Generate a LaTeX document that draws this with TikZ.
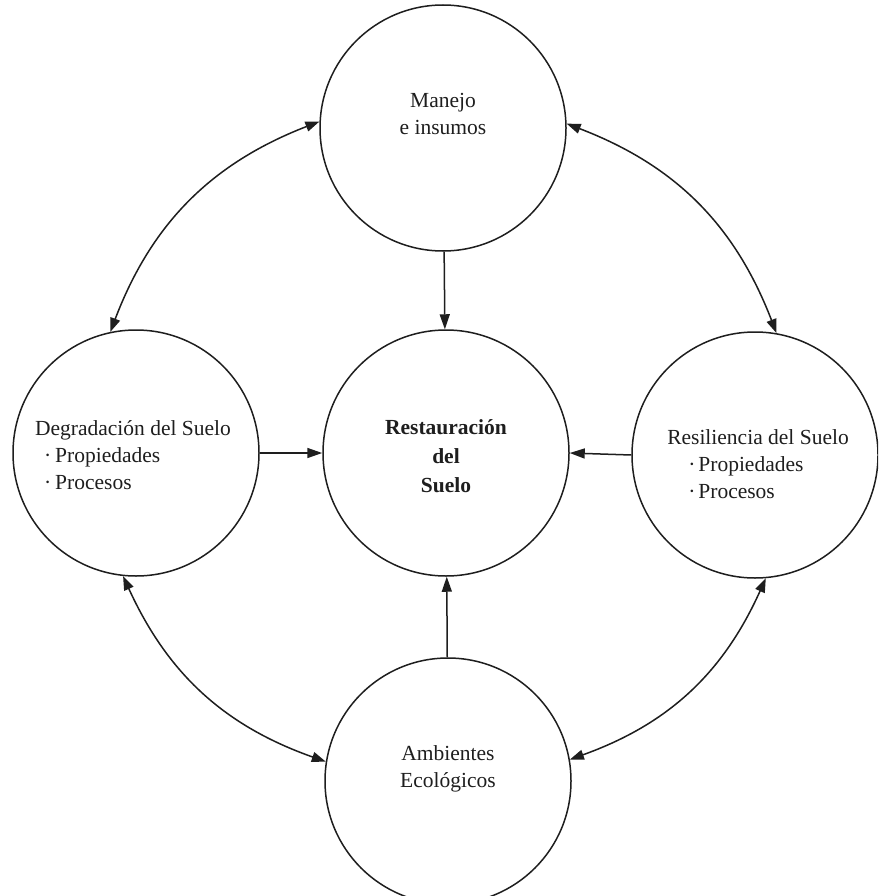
\documentclass[tikz,border=0pt]{standalone}
\usepackage{fontspec}
\setmainfont{Liberation Serif}
\usetikzlibrary{arrows.meta}
\definecolor{ink}{RGB}{30,30,30}
\begin{document}
\begin{tikzpicture}[x=1pt,y=1pt,
  circ/.style={circle, draw=ink, line width=1.5pt, minimum size=246pt, inner sep=0pt},
  lbl/.style={text=ink, font=\fontsize{21.5}{27}\selectfont, inner sep=0pt},
  link/.style={draw=ink, line width=1.5pt, -{Triangle[length=15pt,width=10pt]}},
  both/.style={draw=ink, line width=1.5pt, {Triangle[length=14pt,width=10pt]}-{Triangle[length=14pt,width=10pt]}}]
\clip (0,0) rectangle (878,-896);
\fill[white] (0,0) rectangle (878,-896);

% circles
\node[circ] (man)   at (443,-128) {};
\node[circ] (res)   at (446,-453) {};
\node[circ] (deg)   at (136,-453) {};
\node[circ] (resil) at (755,-455) {};
\node[circ] (amb)   at (448,-781) {};

% texts inside the circles
\node[lbl, align=center] (tman) at ([yshift=14pt]man.center) {Manejo\\e insumos};
\node[lbl, align=center, font=\fontsize{21.5}{29}\selectfont\bfseries] (tres) at ([yshift=-3pt]res.center) {Restauración\\del\\Suelo};
\node[lbl, align=left] (tdeg) at ([xshift=-3pt,yshift=-2pt]deg.center)
  {Degradación del Suelo\\\hspace*{9pt}·\hspace{4pt}Propiedades\\\hspace*{9pt}·\hspace{4pt}Procesos};
\node[lbl, align=left] (tresil) at ([xshift=3pt,yshift=-9pt]resil.center)
  {Resiliencia del Suelo\\\hspace*{21pt}·\hspace{3pt}Propiedades\\\hspace*{21pt}·\hspace{3pt}Procesos};
\node[lbl, align=center] (tamb) at ([yshift=12pt]amb.center) {Ambientes\\Ecológicos};

% influences on the central circle
\draw[link] (man) -- (res);
\draw[link] (deg) -- (res);
\draw[link] (resil.west) -- (res.east);
\draw[link] (amb) -- (res);

% mutual relations around the ring
\draw[both] (deg.102) to[bend left=24] (man.177);
\draw[both] (man.2) to[bend left=24] (resil.80);
\draw[both] (resil.275) to[bend left=23] (amb.10);
\draw[both] (amb.171) to[bend left=23] (deg.264);
\end{tikzpicture}
\end{document}
